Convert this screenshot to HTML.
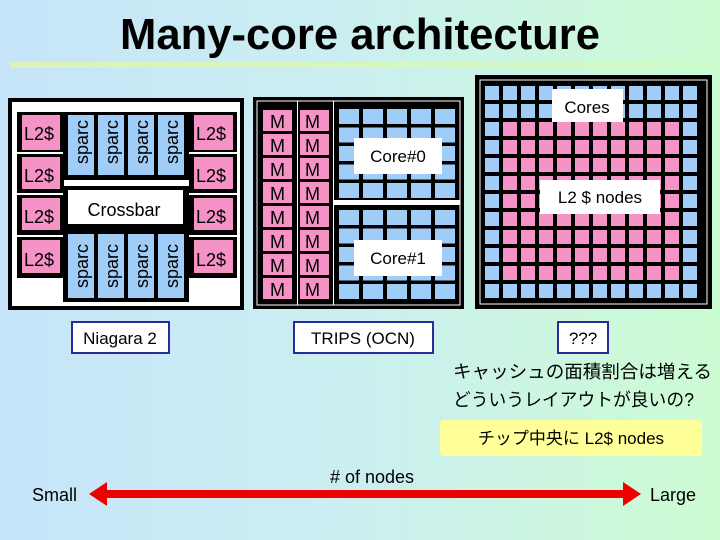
<!DOCTYPE html>
<html><head><meta charset="utf-8"><style>
html,body{margin:0;padding:0;width:720px;height:540px;overflow:hidden}
body{background:linear-gradient(to right,#c6e4fa 0%,#cbeff0 50%,#ccfcd2 100%);font-family:"Liberation Sans","Noto Sans CJK JP",sans-serif}
svg{position:absolute;left:0;top:0}
text{font-family:"Liberation Sans","Noto Sans CJK JP",sans-serif}
</style></head><body>
<svg id="s" width="720" height="540" viewBox="0 0 720 540">
<defs><linearGradient id="ul" x1="0" x2="1"><stop offset="0" stop-color="#dcf2b8"/><stop offset="1" stop-color="#ccfcc8"/></linearGradient></defs>
<text x="360" y="49" font-size="44" font-weight="bold" text-anchor="middle" fill="#000" textLength="480" lengthAdjust="spacingAndGlyphs">Many-core architecture</text>
<rect x="10" y="62" width="710" height="6" fill="url(#ul)"/>

<!-- Niagara -->
<rect x="8" y="98" width="236" height="212" fill="#000"/>
<rect x="12" y="102" width="228" height="204" fill="#fff"/>
<g id="nia"></g>
<g font-size="18" fill="#000">
<text x="24" y="140">L2$</text><text x="24" y="182">L2$</text><text x="24" y="223">L2$</text><text x="24" y="266">L2$</text>
<text x="196" y="140">L2$</text><text x="196" y="182">L2$</text><text x="196" y="223">L2$</text><text x="196" y="266">L2$</text>
<text x="124" y="216" text-anchor="middle">Crossbar</text>
<text transform="translate(88,142) rotate(-90)" text-anchor="middle">sparc</text>
<text transform="translate(118,142) rotate(-90)" text-anchor="middle">sparc</text>
<text transform="translate(148,142) rotate(-90)" text-anchor="middle">sparc</text>
<text transform="translate(178,142) rotate(-90)" text-anchor="middle">sparc</text>
<text transform="translate(88,266) rotate(-90)" text-anchor="middle">sparc</text>
<text transform="translate(118,266) rotate(-90)" text-anchor="middle">sparc</text>
<text transform="translate(148,266) rotate(-90)" text-anchor="middle">sparc</text>
<text transform="translate(178,266) rotate(-90)" text-anchor="middle">sparc</text>
</g>

<!-- TRIPS -->
<rect x="253" y="97" width="211" height="212" fill="#000"/>
<rect x="257" y="101" width="203" height="204" fill="none" stroke="#fff" stroke-width="1"/>
<g id="trips"></g>
<g font-size="18" fill="#000">
<text x="270" y="128">M</text><text x="270" y="152">M</text><text x="270" y="176">M</text><text x="270" y="200">M</text><text x="270" y="224">M</text><text x="270" y="248">M</text><text x="270" y="272">M</text><text x="270" y="296">M</text>
<text x="305" y="128">M</text><text x="305" y="152">M</text><text x="305" y="176">M</text><text x="305" y="200">M</text><text x="305" y="224">M</text><text x="305" y="248">M</text><text x="305" y="272">M</text><text x="305" y="296">M</text>
</g>
<rect x="354" y="138" width="88" height="36" fill="#fff"/>
<text x="398" y="162" font-size="17" text-anchor="middle">Core#0</text>
<rect x="354" y="240" width="88" height="36" fill="#fff"/>
<text x="398" y="264" font-size="17" text-anchor="middle">Core#1</text>

<!-- Right -->
<rect x="475" y="75" width="237" height="234" fill="#000"/>
<rect x="480" y="80" width="227" height="224" fill="none" stroke="#fff" stroke-width="1"/>
<g id="grid"></g>
<rect x="552" y="89" width="71" height="33" fill="#fff"/>
<text x="587" y="113" font-size="17" text-anchor="middle">Cores</text>
<rect x="540" y="180" width="120" height="34" fill="#fff"/>
<text x="600" y="203" font-size="17" text-anchor="middle">L2 $ nodes</text>

<!-- labels -->
<rect x="72" y="322" width="97" height="31" fill="#fff" stroke="#2a2a9a" stroke-width="2"/>
<text x="120" y="344" font-size="17" text-anchor="middle">Niagara 2</text>
<rect x="294" y="322" width="139" height="31" fill="#fff" stroke="#2a2a9a" stroke-width="2"/>
<text x="363" y="344" font-size="17" text-anchor="middle">TRIPS (OCN)</text>
<rect x="558" y="322" width="50" height="31" fill="#fff" stroke="#2a2a9a" stroke-width="2"/>
<text x="583" y="344" font-size="17" text-anchor="middle">???</text>
<text x="453" y="378" font-size="18" textLength="259" lengthAdjust="spacingAndGlyphs">キャッシュの面積割合は増える</text>
<text x="453" y="406" font-size="18" textLength="241" lengthAdjust="spacingAndGlyphs">どういうレイアウトが良いの?</text>
<rect x="440" y="420" width="262" height="36" rx="4" fill="#ffff99"/>
<text x="571" y="444" font-size="17" text-anchor="middle">チップ中央に L2$ nodes</text>
<text x="372" y="483" font-size="18" text-anchor="middle"># of nodes</text>
<text x="32" y="501" font-size="18">Small</text>
<text x="650" y="501" font-size="18">Large</text>
<rect x="104" y="490" width="520" height="8" fill="#ee0000"/>
<polygon points="89,494 107,482 107,506" fill="#ee0000"/>
<polygon points="641,494 623,482 623,506" fill="#ee0000"/>
</svg>
<script>
var NS="http://www.w3.org/2000/svg";
function r(g,x,y,w,h,f){var e=document.createElementNS(NS,"rect");e.setAttribute("x",x);e.setAttribute("y",y);e.setAttribute("width",w);e.setAttribute("height",h);e.setAttribute("fill",f);document.getElementById(g).appendChild(e);}
var P="#f593c6",B="#9fcdf7";
r("nia",17,112,47,166,"#000");r("nia",189,112,48,166,"#000");
[[115,150],[157,189],[198,230],[240,273]].forEach(function(a){r("nia",22,a[0],38,a[1]-a[0],P);r("nia",194,a[0],39,a[1]-a[0],P);});
r("nia",17,152,47,2,"#fff");r("nia",17,193,47,2,"#fff");r("nia",17,235,47,2,"#fff");
r("nia",189,152,48,2,"#fff");r("nia",189,193,48,2,"#fff");r("nia",189,235,48,2,"#fff");
r("nia",63,112,126,68,"#000");r("nia",63,228,126,74,"#000");r("nia",63,186,126,42,"#000");r("nia",68,190,115,34,"#fff");
for(var i=0;i<4;i++){r("nia",68+i*30,115,26,60,B);r("nia",68+i*30,234,26,64,B);}
r("trips",297,101,1,204,"#fff");r("trips",333,101,1,204,"#fff");r("trips",334,200,126,5,"#fff");
for(var j=0;j<8;j++){r("trips",263,110+j*24,29,21,P);r("trips",300,110+j*24,29,21,P);}
for(var c=0;c<2;c++)for(var y=0;y<5;y++)for(var x=0;x<5;x++)r("trips",339+x*24,109+c*101+y*18.5,20,15,B);
for(var y=0;y<12;y++)for(var x=0;x<12;x++){var blue=(y<2||y==11||x==0||x==11);r("grid",485+x*18,86+y*18,14,14,blue?B:P);}
</script>
</body></html>
